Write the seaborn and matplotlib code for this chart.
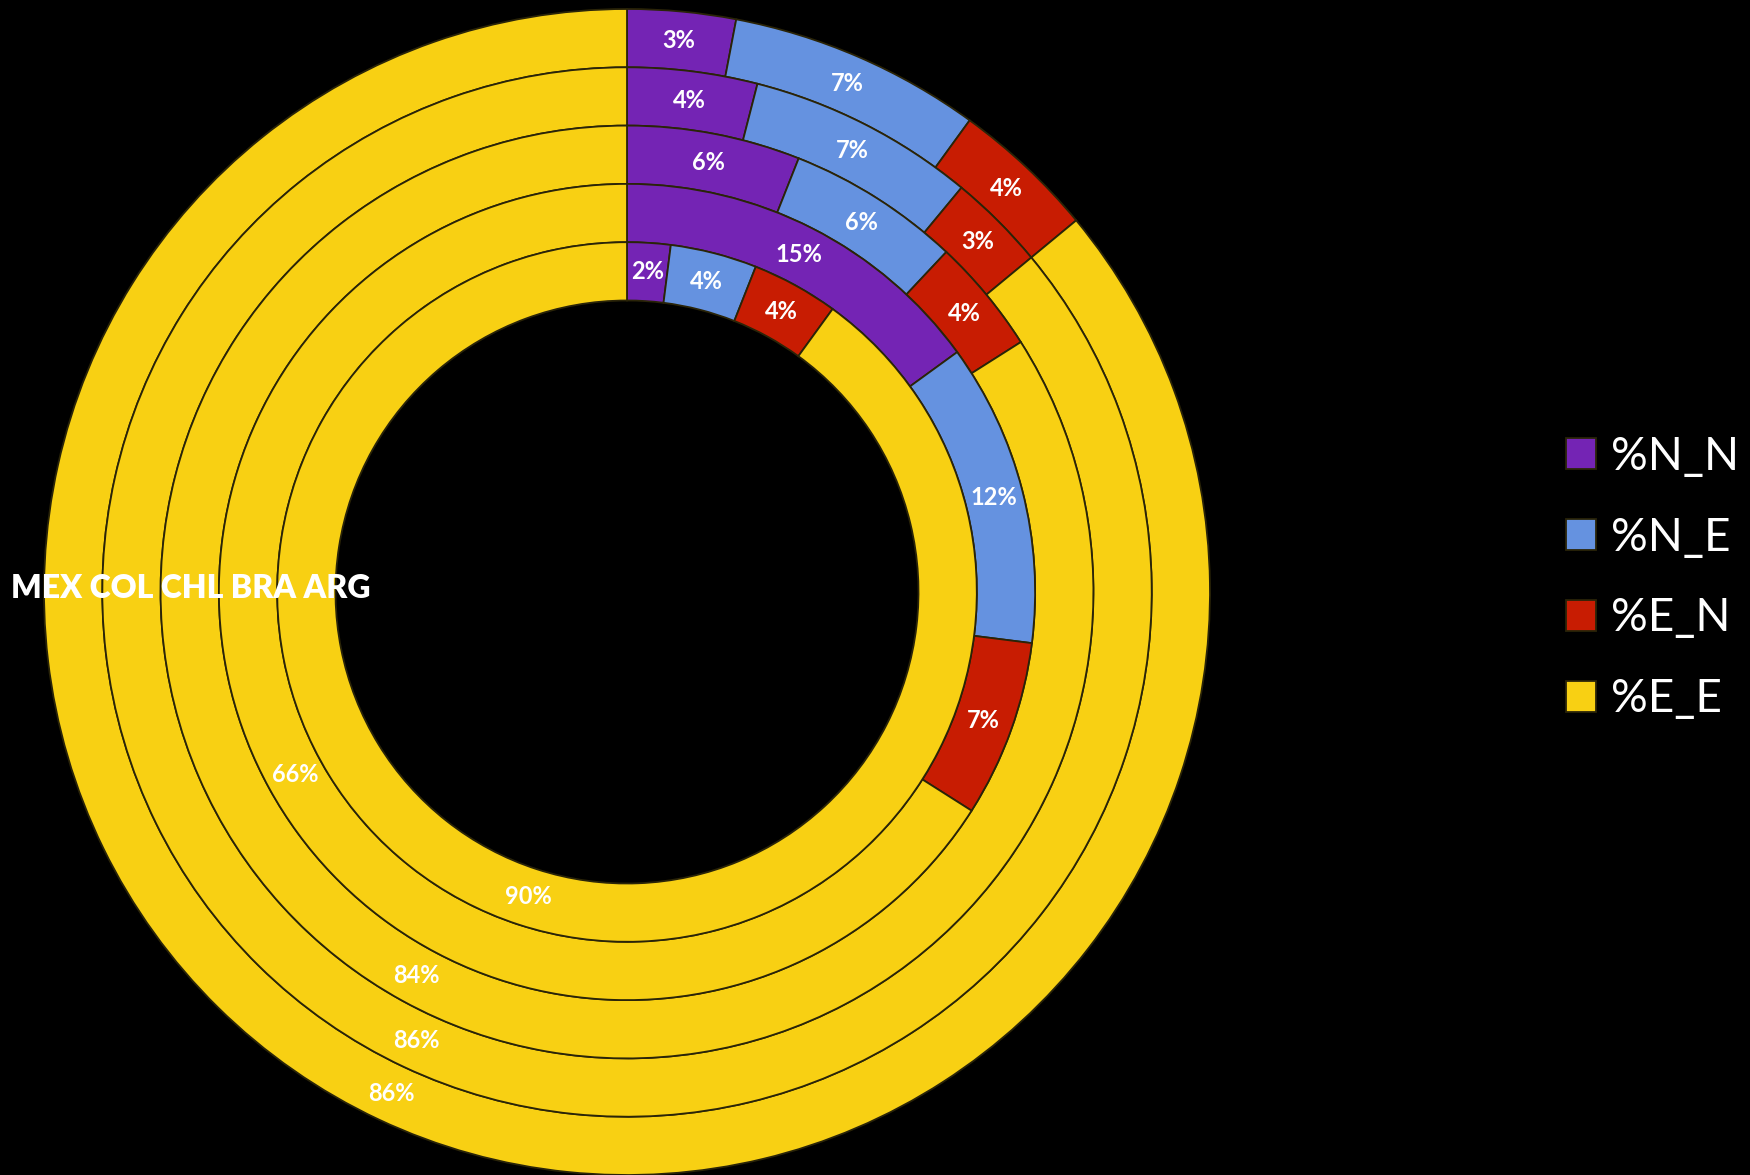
import matplotlib
matplotlib.use("Agg")
import matplotlib.pyplot as plt
import seaborn as sns

# countries from outer ring to inner ring
countries = ['MEX', 'COL', 'CHL', 'BRA', 'ARG']
pct_n_n = [3, 4, 6, 15, 2]
pct_n_e = [7, 7, 6, 12, 4]
pct_e_n = [4, 3, 4, 7, 4]
pct_e_e = [86, 86, 84, 66, 90]
series_names = ['%N_N', '%N_E', '%E_N', '%E_E']

sns.set_theme(style="dark")
plt.rcParams['font.family'] = ['Lato', 'DejaVu Sans']

colors = sns.color_palette(['#7424B4', '#6592E0', '#C81C02', '#F8D013'])

W, H = 1750, 1175
CX, CY, R = 627, 592, 583

fig = plt.figure(figsize=(W / 100, H / 100), dpi=100, facecolor='black')
ax = fig.add_axes([0, 0, 1, 1])
ax.set_facecolor('black')

width = 0.1
wedges_first = None
for i, c in enumerate(countries):
    radius = 1.0 - i * width
    vals = [pct_n_n[i], pct_n_e[i], pct_e_n[i], pct_e_e[i]]
    wedges, texts, autotexts = ax.pie(
        vals,
        radius=radius,
        colors=colors,
        startangle=90,
        counterclock=False,
        autopct='%.0f%%',
        pctdistance=(radius - width / 2) / radius,
        wedgeprops=dict(width=width, edgecolor='#2a2408', linewidth=1.3),
        textprops=dict(color='white', fontsize=17, fontweight='bold'),
    )
    if wedges_first is None:
        wedges_first = wedges

ax.set_aspect('auto')
ax.set_xlim(-CX / R, (W - CX) / R)
ax.set_ylim((CY - H) / R, CY / R)
ax.axis('off')

ax.text((11 - CX) / R, (CY - 588) / R, ' '.join(countries), color='white',
        fontsize=23, fontweight='heavy', ha='left', va='center')

leg = fig.legend(wedges_first, series_names, loc='center left',
                 bbox_to_anchor=(1566 / W, 1 - 578 / H), frameon=False,
                 borderpad=0, borderaxespad=0,
                 fontsize=33, labelcolor='white', handlelength=0.66,
                 handleheight=0.66, handletextpad=0.33, labelspacing=0.85)

fig.savefig('out.png', dpi=100, facecolor='black')
plt.close(fig)
